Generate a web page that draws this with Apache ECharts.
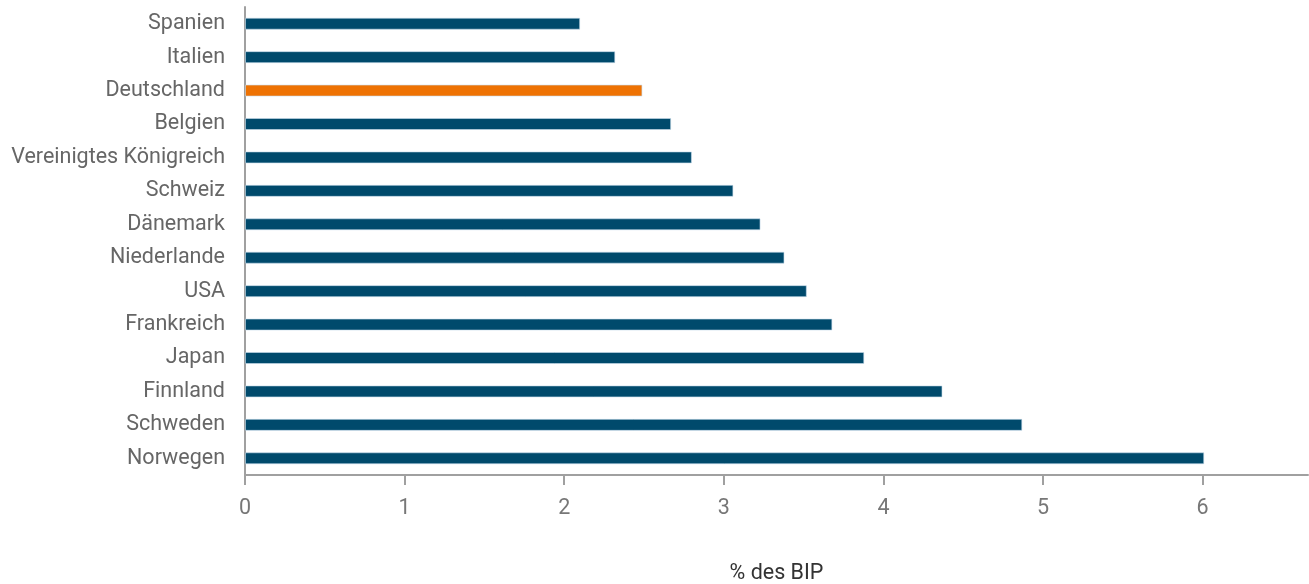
<!DOCTYPE html>
<html>
<head>
<meta charset="utf-8">
<script src="https://cdn.jsdelivr.net/npm/echarts@6/dist/echarts.min.js"></script>
<style>
html,body{margin:0;padding:0;background:#fff;}
#chart{width:1309px;height:584px;}
</style>
</head>
<body>
<div id="chart"></div>
<script>
const categories = ["Spanien","Italien","Deutschland","Belgien","Vereinigtes Königreich","Schweiz","Dänemark","Niederlande","USA","Frankreich","Japan","Finnland","Schweden","Norwegen"];
const values = [2.10, 2.32, 2.49, 2.67, 2.80, 3.06, 3.23, 3.38, 3.52, 3.68, 3.88, 4.37, 4.87, 6.01];
const highlight = "Deutschland";
const xTicks = [0,1,2,3,4,5,6];
const axisTitle = "% des BIP";

const BLUE = "#004a6c";
const ORANGE = "#ee7203";
const font = "Roboto";
const FS = 21.5;

const chart = echarts.init(document.getElementById('chart'), null, {renderer:'canvas'});
chart.setOption({
  animation:false,
  backgroundColor:'#fff',
  grid:{left:245, right:1, top:7, bottom:109, containLabel:false, outerBoundsMode:'none'},
  xAxis:{
    type:'value', min:0, max:6.66,
    name:axisTitle, nameLocation:'middle', nameGap:88,
    nameTextStyle:{color:'#333', fontSize:FS, fontFamily:font},
    splitLine:{show:false},
    axisLine:{show:true, lineStyle:{color:'#a0a0a0', width:2}},
    axisTick:{show:true, customValues:xTicks, length:10, lineStyle:{color:'#a0a0a0', width:2}},
    axisLabel:{customValues:xTicks, color:'#777', fontSize:FS, fontFamily:font, margin:23}
  },
  yAxis:{
    type:'category', data:categories, inverse:true,
    axisLine:{show:true, lineStyle:{color:'#a0a0a0', width:2}},
    axisTick:{show:false},
    axisLabel:{color:'#666', fontSize:FS, fontFamily:font, margin:20}
  },
  series:[{
    type:'bar',
    data:categories.map((c,i)=>({value:values[i], itemStyle:{color: c===highlight?ORANGE:BLUE}})),
    barWidth:12,
    itemStyle:{borderColor:'rgba(200,220,235,0.6)', borderWidth:1}
  }]
});
</script>
</body>
</html>
